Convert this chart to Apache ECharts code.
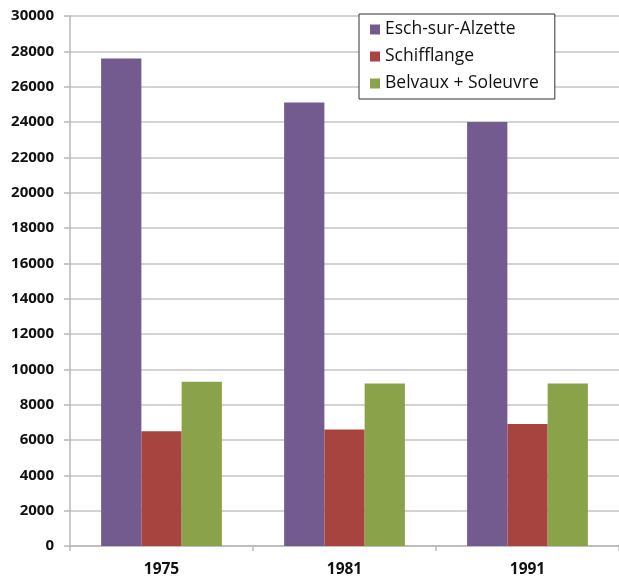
<!DOCTYPE html>
<html><head><meta charset="utf-8">
<script src="https://cdn.jsdelivr.net/npm/echarts@6/dist/echarts.min.js"></script>
<style>html,body{margin:0;padding:0;background:#fff}#c{width:619px;height:578px}</style>
</head><body><div id="c"></div>
<script>
const categories = ['1975', '1981', '1991'];
const seriesNames = ['Esch-sur-Alzette', 'Schifflange', 'Belvaux + Soleuvre'];
const eschValues = [27600, 25100, 24000];
const schifflangeValues = [6500, 6600, 6900];
const belvauxValues = [9300, 9200, 9200];
const colors = ['#735A8F', '#A8443F', '#8AA24A'];

const chart = echarts.init(document.getElementById('c'), null, {renderer: 'canvas'});
const font = 'Open Sans, Liberation Sans, sans-serif';
chart.setOption({
  animation: false,
  color: colors,
  grid: {left: 70, right: -4, top: 16, bottom: 32, containLabel: false},
  legend: {
    orient: 'vertical', left: 359, top: 14,
    backgroundColor: '#fff', borderColor: '#333', borderWidth: 1,
    padding: [5, 16, 5, 11],
    itemWidth: 10, itemHeight: 10, itemGap: 6, icon: 'rect',
    textStyle: {fontFamily: font, fontSize: 17.5, color: '#111', lineHeight: 21},
    data: seriesNames
  },
  xAxis: {
    type: 'category', data: categories,
    axisLine: {lineStyle: {color: '#b8b8b8', width: 1.5}},
    axisTick: {show: true, length: 5, lineStyle: {color: '#b8b8b8', width: 1.5}},
    axisLabel: {fontFamily: font, fontWeight: 'bold', fontSize: 15.5, color: '#111', margin: 16}
  },
  yAxis: {
    type: 'value', min: 0, max: 30000, interval: 2000,
    axisLine: {show: true, lineStyle: {color: '#b8b8b8', width: 1.5}},
    axisTick: {show: true, length: 6, lineStyle: {color: '#b8b8b8', width: 1.5}},
    splitLine: {lineStyle: {color: '#c4c4c4', width: 1.5}},
    axisLabel: {fontFamily: font, fontWeight: 'bold', fontSize: 15, color: '#111', margin: 16,
      formatter: v => String(v)}
  },
  series: [
    {name: seriesNames[0], type: 'bar', data: eschValues, barGap: '0%', barCategoryGap: '34%'},
    {name: seriesNames[1], type: 'bar', data: schifflangeValues, barGap: '0%', barCategoryGap: '34%'},
    {name: seriesNames[2], type: 'bar', data: belvauxValues, barGap: '0%', barCategoryGap: '34%'}
  ]
});
</script></body></html>
